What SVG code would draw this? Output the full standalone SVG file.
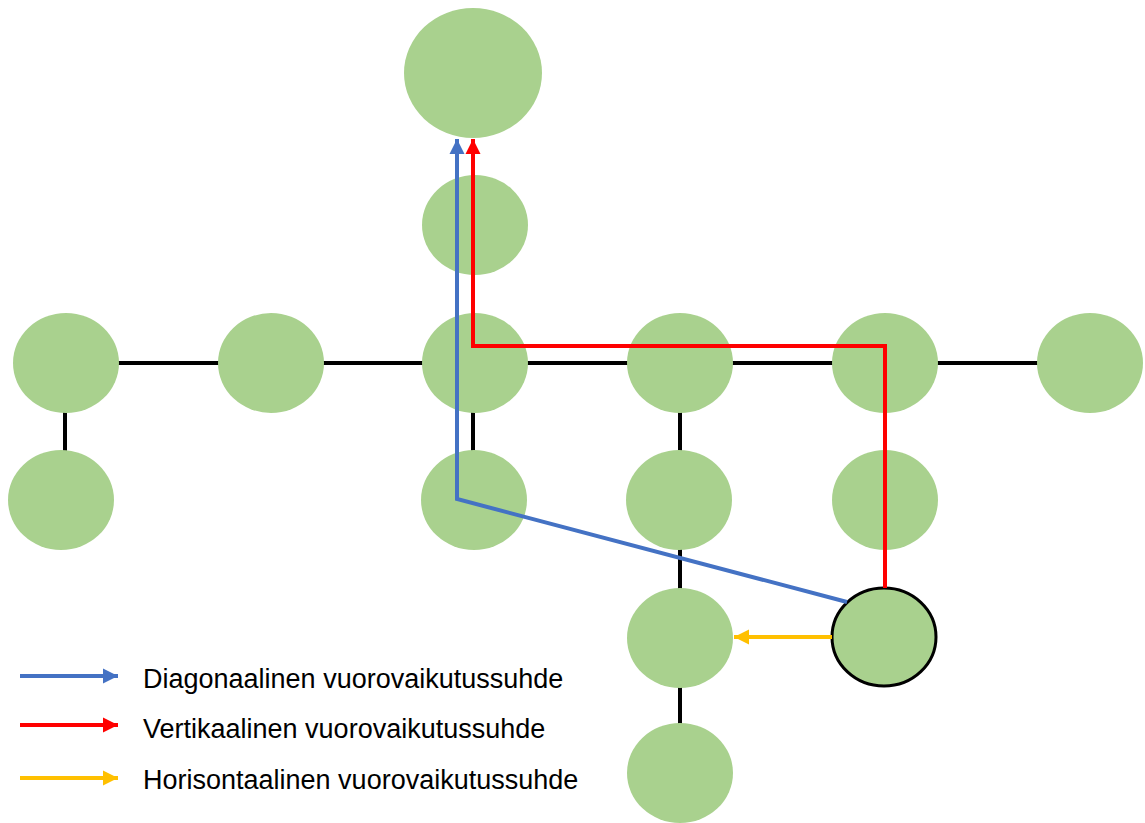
<svg xmlns="http://www.w3.org/2000/svg" width="1145" height="823" viewBox="0 0 1145 823">
<defs>
<style>
.n{fill:#a9d18e;}
.hl{fill:#a9d18e;stroke:#000;stroke-width:3;}
.e{stroke:#000;stroke-width:4;fill:none;}
.b{stroke:#4472c4;stroke-width:4;fill:none;}
.r{stroke:#ff0000;stroke-width:4;fill:none;}
.y{stroke:#ffc000;stroke-width:4;fill:none;}
.t{font-family:"Liberation Sans",Arial,sans-serif;font-size:27px;fill:#000;}
</style>
<marker id="ab" markerUnits="userSpaceOnUse" markerWidth="16" markerHeight="16" viewBox="0 0 16 16" refX="15" refY="8" orient="auto"><path d="M0,0.5 L15,8 L0,15.5 Z" fill="#4472c4"/></marker>
<marker id="ar" markerUnits="userSpaceOnUse" markerWidth="16" markerHeight="16" viewBox="0 0 16 16" refX="15" refY="8" orient="auto"><path d="M0,0.5 L15,8 L0,15.5 Z" fill="#ff0000"/></marker>
<marker id="ay" markerUnits="userSpaceOnUse" markerWidth="16" markerHeight="16" viewBox="0 0 16 16" refX="15" refY="8" orient="auto"><path d="M0,0.5 L15,8 L0,15.5 Z" fill="#ffc000"/></marker>
</defs>
<rect width="1145" height="823" fill="#fff"/>
<g id="edges">
<line class="e" x1="66" y1="363" x2="1090" y2="363"/>
<line class="e" x1="65" y1="363" x2="65" y2="500"/>
<line class="e" x1="473" y1="363" x2="473" y2="500"/>
<line class="e" x1="680" y1="363" x2="680" y2="773"/>
</g>
<g id="n1"><ellipse class="n" cx="66" cy="363" rx="53" ry="50"/></g>
<g id="n2"><ellipse class="n" cx="271" cy="363" rx="53" ry="50"/></g>
<g id="n3"><ellipse class="n" cx="475" cy="363" rx="53" ry="50"/></g>
<g id="n4"><ellipse class="n" cx="680" cy="363" rx="53" ry="50"/></g>
<g id="n5"><ellipse class="n" cx="885" cy="363" rx="53" ry="50"/></g>
<g id="n6"><ellipse class="n" cx="1090" cy="363" rx="53" ry="50"/></g>
<g id="n7"><ellipse class="n" cx="61" cy="500" rx="53" ry="50"/></g>
<g id="n8"><ellipse class="n" cx="474" cy="500" rx="53" ry="50"/></g>
<g id="n9"><ellipse class="n" cx="679" cy="500" rx="53" ry="50"/></g>
<g id="n10"><ellipse class="n" cx="885" cy="500" rx="53" ry="50"/></g>
<g id="n11"><ellipse class="n" cx="680" cy="638" rx="53" ry="50"/></g>
<g id="n12"><ellipse class="hl" cx="884" cy="637" rx="52" ry="49"/></g>
<g id="n13"><ellipse class="n" cx="680" cy="773" rx="53" ry="50"/></g>
<g id="n14"><ellipse class="n" cx="475" cy="225" rx="53" ry="50"/></g>
<g id="n15"><ellipse class="n" cx="473" cy="73" rx="69" ry="65"/></g>
<g id="connectors">
<polyline class="b" points="847,602 457,499 457,139" marker-end="url(#ab)"/>
<polyline class="r" points="885,588 885,346 473,346 473,139" marker-end="url(#ar)"/>
<line class="y" x1="832" y1="637" x2="734" y2="637" marker-end="url(#ay)"/>
</g>
<g id="legend">
<line class="b" x1="20" y1="676" x2="118" y2="676" marker-end="url(#ab)"/>
<line class="r" x1="20" y1="725" x2="118" y2="725" marker-end="url(#ar)"/>
<line class="y" x1="20" y1="778" x2="118" y2="778" marker-end="url(#ay)"/>
<text class="t" x="143" y="688">Diagonaalinen vuorovaikutussuhde</text>
<text class="t" x="143" y="738">Vertikaalinen vuorovaikutussuhde</text>
<text class="t" x="143" y="789">Horisontaalinen vuorovaikutussuhde</text>
</g>
</svg>
